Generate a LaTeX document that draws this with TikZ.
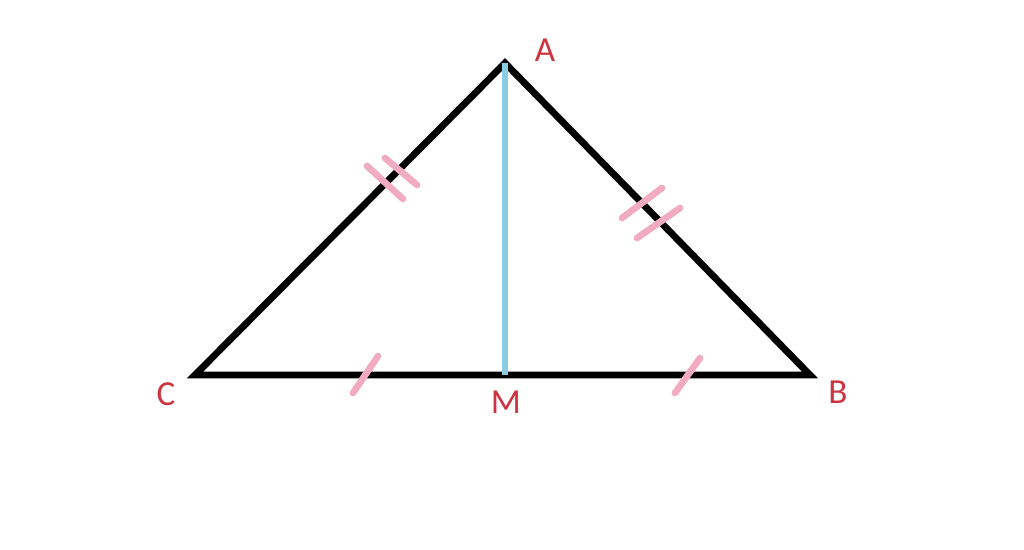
\documentclass[tikz,border=0pt]{standalone}
\usepackage{fontspec}
\setmainfont{Carlito}
\usetikzlibrary{positioning}

\definecolor{lblred}{RGB}{204,52,64}
\definecolor{tickpink}{RGB}{242,172,194}
\definecolor{medblue}{RGB}{140,204,224}

\begin{document}
\begin{tikzpicture}[
	x = 0.02cm, y = -0.02cm, % one unit per pixel
	side/.style={draw=black, line width=3.9pt, line join=miter},  % triangle sides
	median/.style={draw=medblue, line width=3.6pt},                % median AM
	tick/.style={draw=tickpink, line width=3.8pt, line cap=round}, % equal marks
	lbl/.style={text=lblred, inner sep=0pt, font=\fontsize{20}{24}\selectfont},
	]

	\useasboundingbox (0,0) rectangle (1024,550);

	% Vertices and their positions
	\coordinate (A) at (505,63);
	\coordinate (C) at (195,375);
	\coordinate (B) at (810,375);
	\coordinate (M) at (505,375);

	% Labels
	\node[lbl] (la) at (545,50)  {A};
	\node[lbl] (lc) at (166,394) {C};
	\node[lbl] (lm) at (506,402) {M};
	\node[lbl] (lb) at (838,392) {B};

	% Paths connecting vertices
	\path[side] (C) -- (A) -- (B) -- cycle;
	\path[median] (A) -- (M);

	% Marks for equal sides
	\draw[tick] (367,166) -- (403,199);
	\draw[tick] (385,158) -- (417,185);
	\draw[tick] (622,218) -- (662,188);
	\draw[tick] (637,238) -- (680,208);
	\draw[tick] (353,393) -- (378,356);
	\draw[tick] (675,393) -- (700,358);

\end{tikzpicture}
\end{document}
